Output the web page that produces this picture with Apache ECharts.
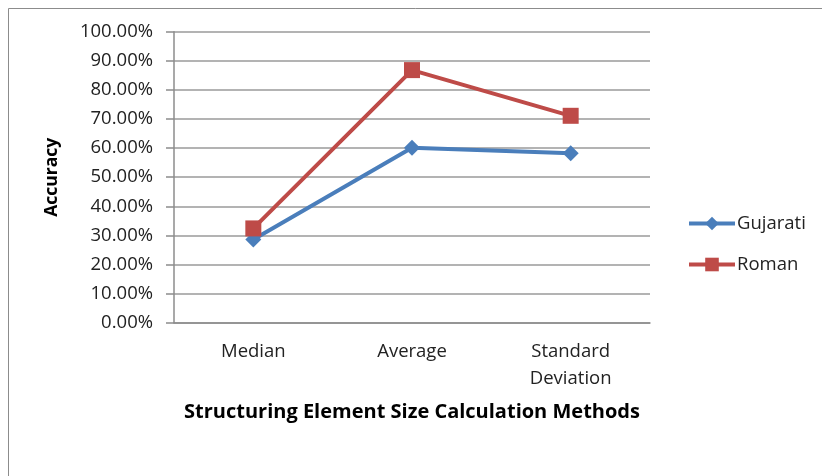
<!DOCTYPE html>
<html>
<head>
<meta charset="utf-8">
<script src="https://cdn.jsdelivr.net/npm/echarts@6/dist/echarts.min.js"></script>
<style>html,body{margin:0;padding:0;background:#fff}#c{width:822px;height:476px}</style>
</head>
<body>
<div id="c"></div>
<script>
const categories = ['Median', 'Average', 'Standard\nDeviation'];
const gujarati = [28.6, 60.1, 58.2];
const roman = [32.4, 86.8, 71.1];
const yTicks = [0, 10, 20, 30, 40, 50, 60, 70, 80, 90, 100];

const FONT = 'Open Sans';
const chart = echarts.init(document.getElementById('c'), null, {renderer: 'canvas'});
chart.setOption({
  animation: false,
  backgroundColor: '#fff',
  textStyle: {fontFamily: FONT},
  graphic: [{
    type: 'rect', shape: {x: 8.5, y: 8.5, width: 900, height: 600},
    style: {fill: 'none', stroke: '#8c8c8c', lineWidth: 1}, silent: true, z: -1
  }],
  grid: {left: 174, right: 172, top: 31.7, bottom: 153.3, containLabel: false},
  legend: {
    orient: 'vertical', left: 682, top: 209, itemGap: 22,
    itemWidth: 46, itemHeight: 17,
    lineStyle: {width: 4},
    textStyle: {fontFamily: FONT, fontSize: 18.5, color: '#222', padding: [0, 0, 0, -3]},
    data: ['Gujarati', 'Roman']
  },
  xAxis: {
    type: 'category', data: categories, boundaryGap: true,
    name: 'Structuring Element Size Calculation Methods',
    nameLocation: 'middle', nameGap: 80,
    nameTextStyle: {fontFamily: FONT, fontSize: 20, fontWeight: 'bold', color: '#000'},
    axisLine: {lineStyle: {color: '#8c8c8c', width: 1.5}},
    axisTick: {show: false},
    axisLabel: {fontFamily: FONT, fontSize: 18.5, color: '#222', margin: 16, lineHeight: 27}
  },
  yAxis: {
    type: 'value', min: 0, max: 100, interval: 10,
    name: 'Accuracy', nameLocation: 'middle', nameGap: 113, nameRotate: 90,
    nameTextStyle: {fontFamily: FONT, fontSize: 17.5, fontWeight: 'bold', color: '#000'},
    axisLine: {show: true, lineStyle: {color: '#8c8c8c', width: 1.5}},
    axisTick: {show: true, length: 8, lineStyle: {color: '#8c8c8c', width: 1.5}},
    splitLine: {lineStyle: {color: '#9a9a9a', width: 1.5}},
    axisLabel: {
      fontFamily: FONT, fontSize: 18.5, color: '#222', margin: 21,
      formatter: v => yTicks.includes(v) ? v.toFixed(2) + '%' : ''
    }
  },
  series: [
    {
      name: 'Gujarati', type: 'line', data: gujarati,
      symbol: 'diamond', symbolSize: 16,
      lineStyle: {color: '#4a7ebb', width: 4},
      itemStyle: {color: '#4a7ebb'}
    },
    {
      name: 'Roman', type: 'line', data: roman,
      symbol: 'rect', symbolSize: 16,
      lineStyle: {color: '#be4b48', width: 4},
      itemStyle: {color: '#be4b48'}
    }
  ]
});
</script>
</body>
</html>
